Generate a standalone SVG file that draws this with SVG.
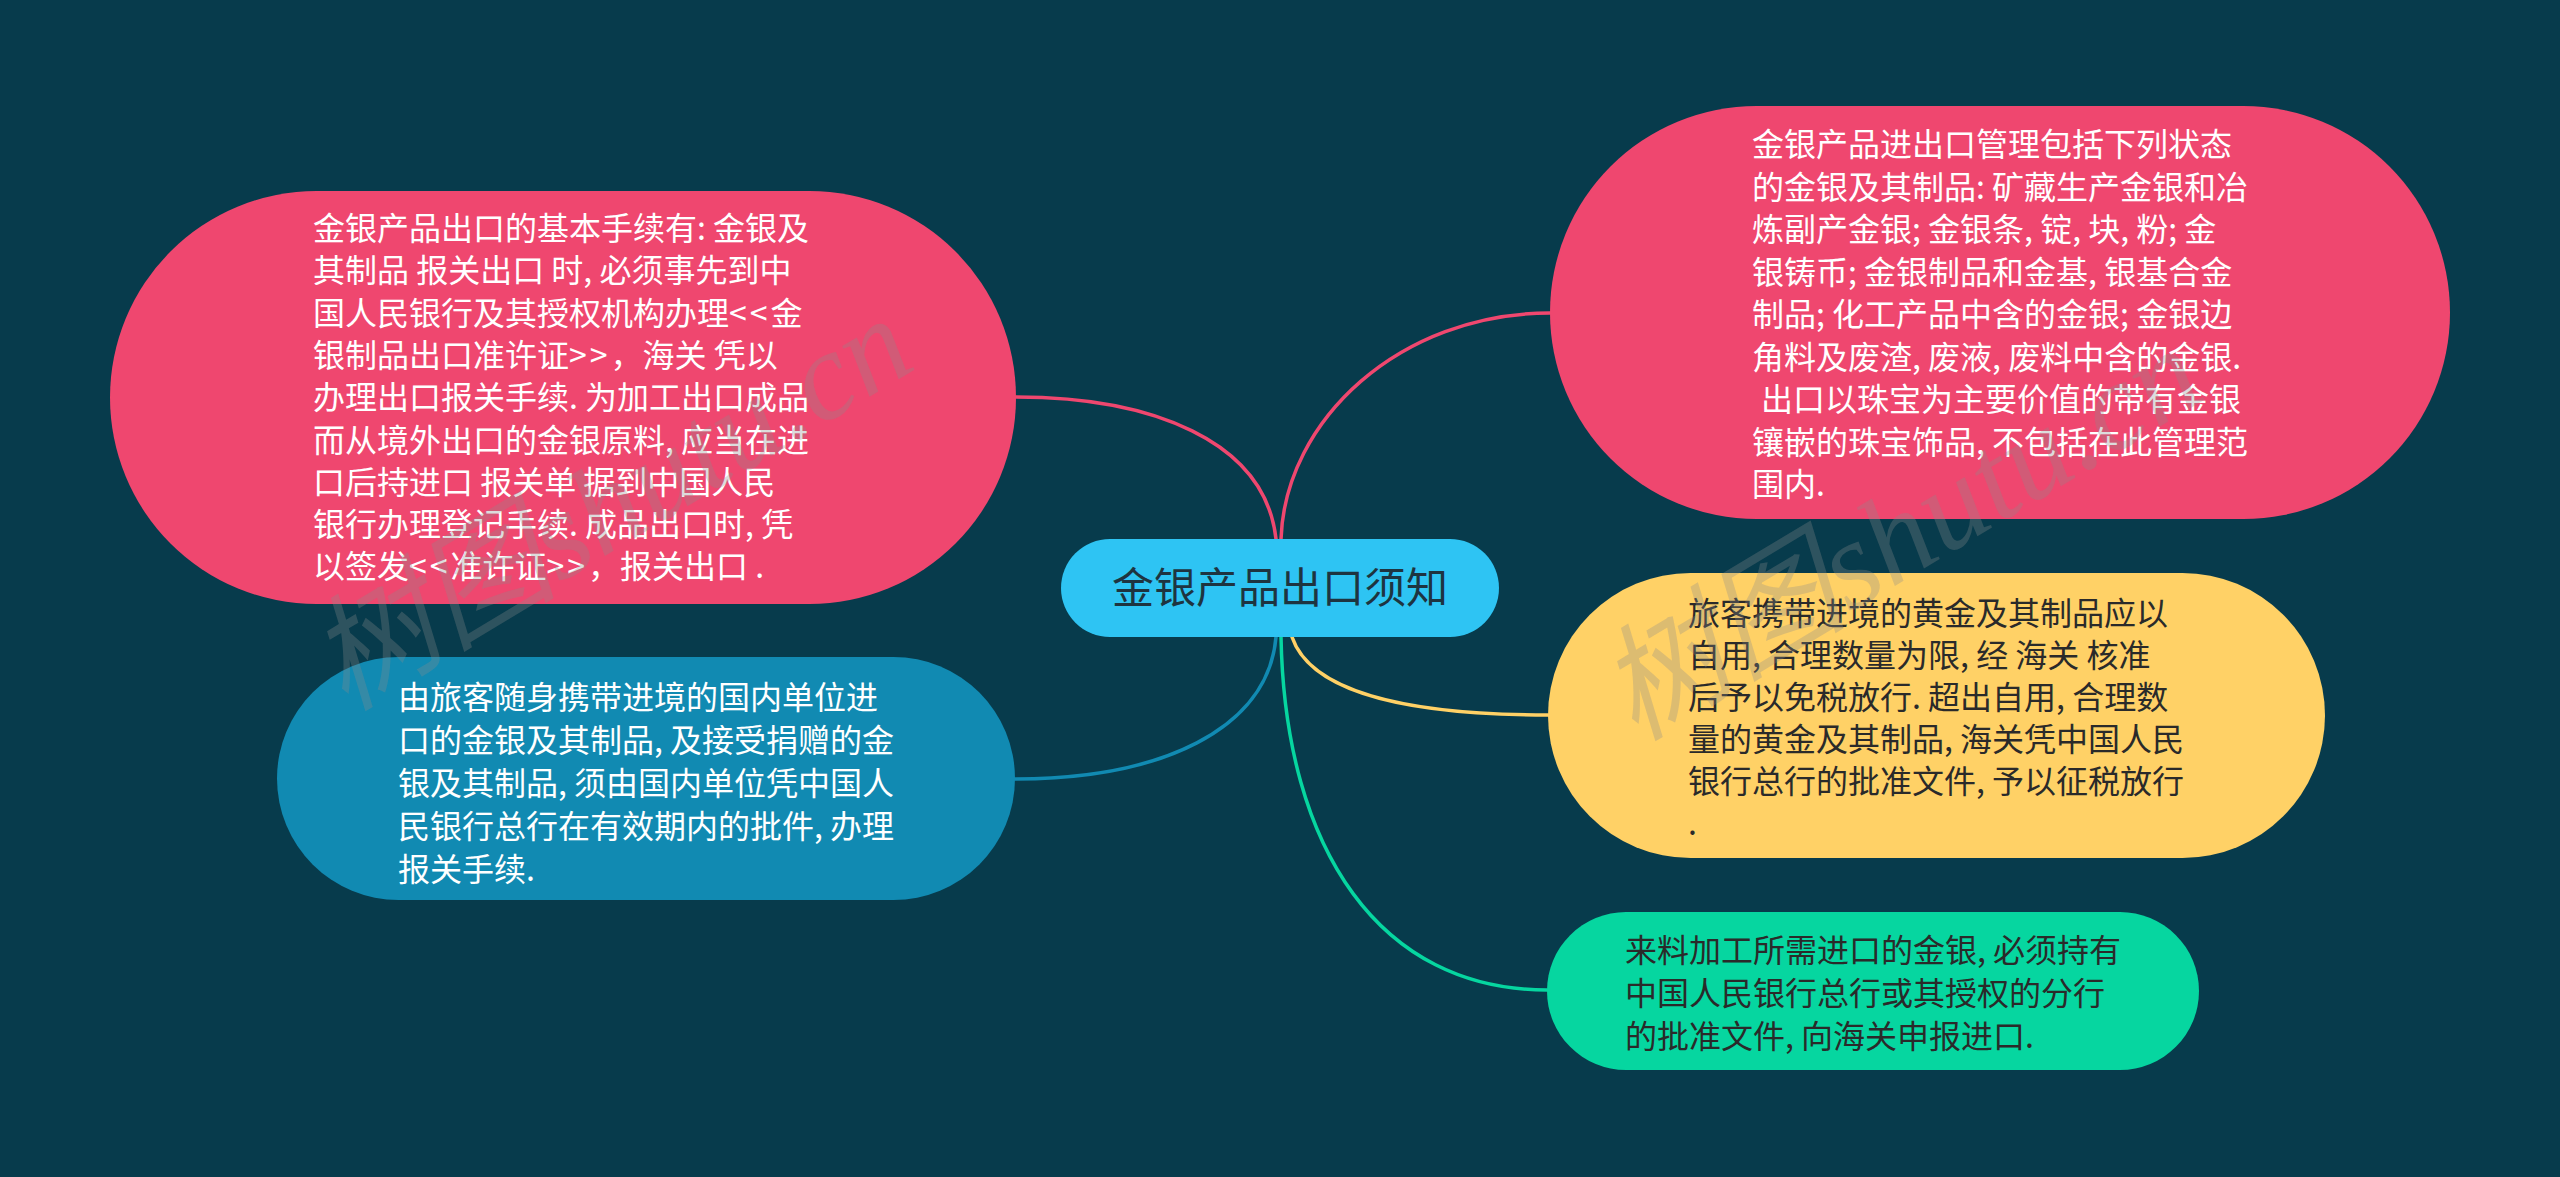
<svg xmlns="http://www.w3.org/2000/svg" width="2560" height="1177" viewBox="0 0 2560 1177">
<style>
.t{font-family:"Noto Sans CJK SC","Noto Sans",sans-serif;font-size:32px}
.w{fill:#ffffff}
.d{fill:#2a2a2a}
.c{fill:none;stroke-width:3.5;stroke-linecap:round}
.lt{letter-spacing:3px}
.wm{font-family:"Liberation Serif","Noto Sans CJK SC",serif;font-style:italic;font-size:125px;fill:#8a8a8a;fill-opacity:0.3}
</style>
<rect x="0" y="0" width="2560" height="1177" fill="#073B4C"/>
<g id="connectors">
<path class="c" stroke="#EF476F" d="M1276 539 C1265 440 1150 397 1016 397"/>
<path class="c" stroke="#EF476F" d="M1281 539 C1285 420 1400 313 1550 313"/>
<path class="c" stroke="#118AB2" d="M1276 637 C1268 730 1160 779 1015 779"/>
<path class="c" stroke="#FFD166" d="M1292 637 C1310 690 1400 715 1548 715"/>
<path class="c" stroke="#06D6A0" d="M1281 637 C1285 850 1380 990 1547 990"/>
</g>
<g id="center">
<rect x="1061" y="539" width="438" height="98" rx="49" fill="#2EC4F3"/>
<text x="1280" y="603" text-anchor="middle" font-family="Noto Sans CJK SC, Noto Sans, sans-serif" font-size="42" fill="#1e3440">金银产品出口须知</text>
</g>
<g id="node-left-top">
<rect x="110" y="191" width="906" height="413" rx="206.5" fill="#EF476F"/>
<text class="t w">
<tspan x="313" y="240">金银产品出口的基本手续有: 金银及</tspan>
<tspan x="313" y="282.3">其制品 报关出口 时, 必须事先到中</tspan>
<tspan x="313" y="324.6">国人民银行及其授权机构办理<tspan class="lt">&lt;&lt;</tspan>金</tspan>
<tspan x="313" y="366.9">银制品出口准许证<tspan class="lt">&gt;&gt;</tspan>，海关 凭以</tspan>
<tspan x="313" y="409.2">办理出口报关手续. 为加工出口成品</tspan>
<tspan x="313" y="451.5">而从境外出口的金银原料, 应当在进</tspan>
<tspan x="313" y="493.8">口后持进口 报关单 据到中国人民</tspan>
<tspan x="313" y="536.1">银行办理登记手续. 成品出口时, 凭</tspan>
<tspan x="313" y="578.4">以签发<tspan class="lt">&lt;&lt;</tspan>准许证<tspan class="lt">&gt;&gt;</tspan>，报关出口 .</tspan>
</text>
</g>
<g id="node-right-top">
<rect x="1550" y="106" width="900" height="413" rx="206.5" fill="#EF476F"/>
<text class="t w">
<tspan x="1752" y="156">金银产品进出口管理包括下列状态</tspan>
<tspan x="1752" y="198.5">的金银及其制品: 矿藏生产金银和冶</tspan>
<tspan x="1752" y="241">炼副产金银; 金银条, 锭, 块, 粉; 金</tspan>
<tspan x="1752" y="283.5">银铸币; 金银制品和金基, 银基合金</tspan>
<tspan x="1752" y="326">制品; 化工产品中含的金银; 金银边</tspan>
<tspan x="1752" y="368.5">角料及废渣, 废液, 废料中含的金银.</tspan>
<tspan x="1761" y="411">出口以珠宝为主要价值的带有金银</tspan>
<tspan x="1752" y="453.5">镶嵌的珠宝饰品, 不包括在此管理范</tspan>
<tspan x="1752" y="496">围内.</tspan>
</text>
</g>
<g id="node-left-bottom">
<rect x="277" y="657" width="738" height="243" rx="121.5" fill="#118AB2"/>
<text class="t w">
<tspan x="398" y="709">由旅客随身携带进境的国内单位进</tspan>
<tspan x="398" y="751.9">口的金银及其制品, 及接受捐赠的金</tspan>
<tspan x="398" y="794.8">银及其制品, 须由国内单位凭中国人</tspan>
<tspan x="398" y="837.7">民银行总行在有效期内的批件, 办理</tspan>
<tspan x="398" y="880.6">报关手续.</tspan>
</text>
</g>
<g id="node-right-middle">
<rect x="1548" y="573" width="777" height="285" rx="142.5" fill="#FFD166"/>
<text class="t d">
<tspan x="1688" y="625">旅客携带进境的黄金及其制品应以</tspan>
<tspan x="1688" y="667">自用, 合理数量为限, 经 海关 核准</tspan>
<tspan x="1688" y="709">后予以免税放行. 超出自用, 合理数</tspan>
<tspan x="1688" y="751">量的黄金及其制品, 海关凭中国人民</tspan>
<tspan x="1688" y="793">银行总行的批准文件, 予以征税放行</tspan>
<tspan x="1688" y="835">.</tspan>
</text>
</g>
<g id="node-right-bottom">
<rect x="1547" y="912" width="652" height="158" rx="79" fill="#06D6A0"/>
<text class="t d">
<tspan x="1625" y="962">来料加工所需进口的金银, 必须持有</tspan>
<tspan x="1625" y="1005">中国人民银行总行或其授权的分行</tspan>
<tspan x="1625" y="1048">的批准文件, 向海关申报进口.</tspan>
</text>
</g>
<g id="watermark">
<text class="wm" transform="translate(345 712) rotate(-31)">树图shutu.cn</text>
<text class="wm" transform="translate(1635 742) rotate(-31)">树图shutu.cn</text>
</g>
</svg>
